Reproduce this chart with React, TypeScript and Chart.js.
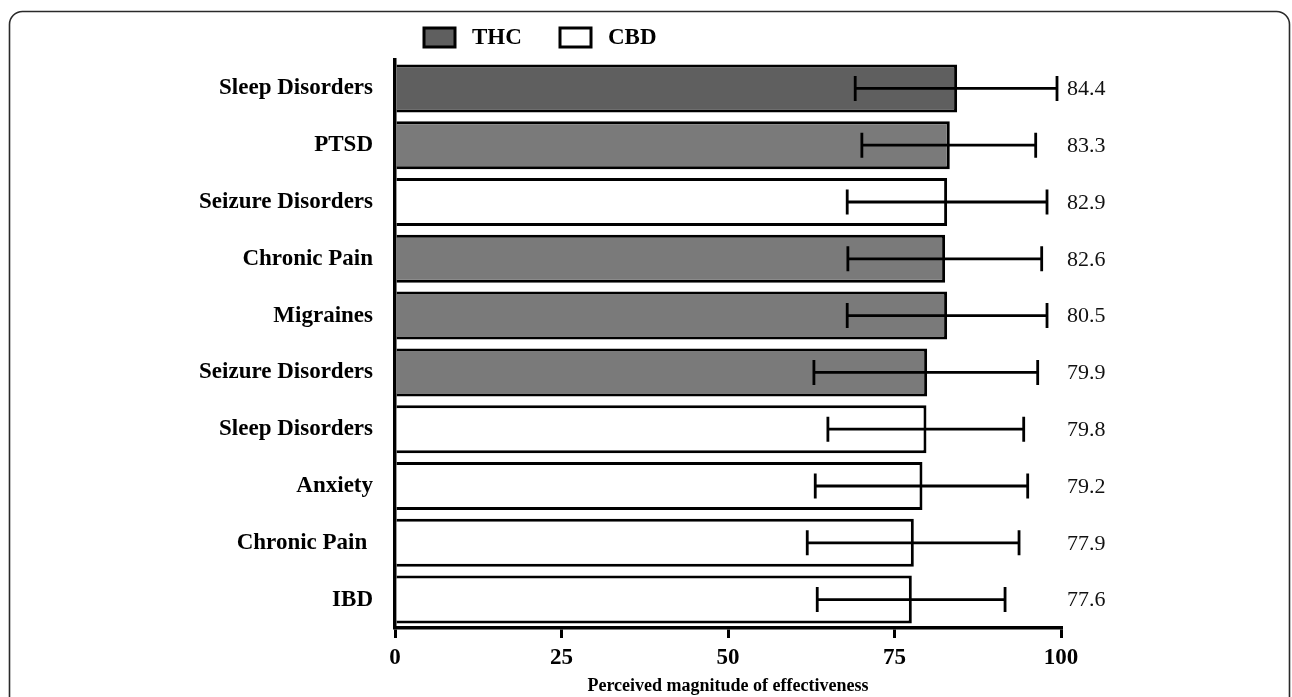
import React, { useEffect, useRef } from "react";
import { Chart, registerables } from "chart.js";

Chart.register(...registerables);

// ---- data ----
const categories = [
  "Sleep Disorders",
  "PTSD",
  "Seizure Disorders",
  "Chronic Pain",
  "Migraines",
  "Seizure Disorders",
  "Sleep Disorders",
  "Anxiety",
  "Chronic Pain ",
  "IBD",
];
const groups = ["THC", "THC", "CBD", "THC", "THC", "THC", "CBD", "CBD", "CBD", "CBD"];
const barValues = [84.4, 83.3, 82.9, 82.6, 82.9, 79.9, 79.8, 79.2, 77.9, 77.6];
const errLow = [69.1, 70.1, 67.9, 68.0, 67.9, 62.9, 65.0, 63.1, 61.9, 63.4];
const errHigh = [99.4, 96.2, 97.9, 97.1, 97.9, 96.5, 94.4, 95.0, 93.7, 91.6];
const valueLabels = ["84.4", "83.3", "82.9", "82.6", "80.5", "79.9", "79.8", "79.2", "77.9", "77.6"];
const xTicks = [0, 25, 50, 75, 100];
const legendItems = ["THC", "CBD"];
const xTitle = "Perceived magnitude of effectiveness";

// ---- styles ----
const SERIF = "'Liberation Serif', 'Times New Roman', Times, serif";
const THC_DARK = "#5f5f5f";
const THC_COLOR = "#7a7a7a";
const CBD_COLOR = "#ffffff";
const highlightIndex = 0;

const colorFor = (g: string, i: number) =>
  g === "THC" ? (i === highlightIndex ? THC_DARK : THC_COLOR) : CBD_COLOR;

const framePlugin = {
  id: "frame",
  beforeDraw(chart: any) {
    const ctx = chart.ctx;
    ctx.save();
    ctx.fillStyle = "#ffffff";
    ctx.fillRect(0, 0, chart.width, chart.height);
    ctx.strokeStyle = "#2a2a2a";
    ctx.lineWidth = 1.6;
    const x = 9.5, y = 11.5, w = chart.width - 12, h = chart.height + 40, r = 13;
    ctx.beginPath();
    ctx.moveTo(x + r, y);
    ctx.lineTo(x + w - r, y);
    ctx.arcTo(x + w, y, x + w, y + r, r);
    ctx.lineTo(x + w, y + h);
    ctx.moveTo(x, y + h);
    ctx.lineTo(x, y + r);
    ctx.arcTo(x, y, x + r, y, r);
    ctx.stroke();
    ctx.restore();
  },
};

const errorBarPlugin = {
  id: "errorBars",
  afterDatasetsDraw(chart: any) {
    const ctx = chart.ctx;
    const xs = chart.scales.x;
    const meta = chart.getDatasetMeta(0);
    ctx.save();
    ctx.strokeStyle = "#000";
    ctx.lineWidth = 2.8;
    const cap = 12.5;
    meta.data.forEach((bar: any, i: number) => {
      const y = bar.y;
      const x1 = xs.getPixelForValue(errLow[i]);
      const x2 = xs.getPixelForValue(errHigh[i]);
      ctx.beginPath();
      ctx.moveTo(x1, y);
      ctx.lineTo(x2, y);
      ctx.moveTo(x1, y - cap);
      ctx.lineTo(x1, y + cap);
      ctx.moveTo(x2, y - cap);
      ctx.lineTo(x2, y + cap);
      ctx.stroke();
    });
    ctx.restore();
  },
};

const labelsAndLegendPlugin = {
  id: "labelsLegend",
  afterDraw(chart: any) {
    const ctx = chart.ctx;
    const area = chart.chartArea;
    const meta = chart.getDatasetMeta(0);
    ctx.save();
    // value labels
    ctx.fillStyle = "#111";
    ctx.font = `22px ${SERIF}`;
    ctx.textAlign = "left";
    ctx.textBaseline = "middle";
    meta.data.forEach((bar: any, i: number) => {
      ctx.fillText(valueLabels[i], area.right + 6, bar.y + 1);
    });
    // legend
    const colors = [THC_DARK, CBD_COLOR];
    let lx = area.left + 29;
    const ly = 28;
    ctx.font = `bold 23px ${SERIF}`;
    legendItems.forEach((name, i) => {
      ctx.fillStyle = colors[i];
      ctx.fillRect(lx, ly, 31, 19);
      ctx.strokeStyle = "#000";
      ctx.lineWidth = 3;
      ctx.strokeRect(lx, ly, 31, 19);
      ctx.fillStyle = "#000";
      ctx.fillText(name, lx + 48, ly + 10);
      lx += 136;
    });
    ctx.restore();
  },
};

export default function App() {
  const canvasRef = useRef<HTMLCanvasElement | null>(null);

  useEffect(() => {
    if (!canvasRef.current) return;
    const chart = new Chart(canvasRef.current, {
      type: "bar",
      data: {
        labels: categories,
        datasets: [
          {
            label: "Perceived magnitude",
            data: barValues,
            backgroundColor: groups.map((g, i) => colorFor(g, i)),
            borderColor: "#000",
            borderWidth: 3,
            borderSkipped: "start",
            categoryPercentage: 1,
            barPercentage: 0.845,
          },
        ],
      },
      options: {
        indexAxis: "y",
        responsive: false,
        animation: false,
        events: [],
        layout: { padding: { top: 60, right: 231, left: 0, bottom: 0 } },
        plugins: {
          legend: { display: false },
          tooltip: { enabled: false },
        },
        scales: {
          x: {
            type: "linear",
            min: 0,
            max: 100,
            z: 1,
            afterBuildTicks: (s: any) => {
              s.ticks = xTicks.map((v) => ({ value: v }));
            },
            afterFit: (s: any) => {
              s.height = 69;
            },
            grid: {
              drawOnChartArea: false,
              drawTicks: true,
              tickLength: 10,
              color: "#000",
              lineWidth: 3,
            },
            border: { display: true, color: "#000", width: 3.5 },
            ticks: {
              color: "#000",
              font: { family: SERIF, size: 23, weight: "bold" },
              padding: 6,
              maxRotation: 0,
            },
            title: {
              display: true,
              text: xTitle,
              color: "#000",
              font: { family: SERIF, size: 18, weight: "bold" },
              padding: { top: 0, bottom: 0 },
            },
          },
          y: {
            type: "category",
            z: 1,
            afterFit: (s: any) => {
              s.width = 395;
            },
            grid: { display: false },
            border: { display: true, color: "#000", width: 3.5 },
            ticks: {
              color: "#000",
              font: { family: SERIF, size: 23, weight: "bold" },
              padding: 14,
            },
          },
        },
      },
      plugins: [framePlugin, errorBarPlugin, labelsAndLegendPlugin],
    } as any);
    return () => chart.destroy();
  }, []);

  return (
    <div style={{ position: "fixed", left: 0, top: 0, width: 1292, height: 697 }}>
      <canvas ref={canvasRef} width={1292} height={697} style={{ width: 1292, height: 697, display: "block" }} />
    </div>
  );
}
